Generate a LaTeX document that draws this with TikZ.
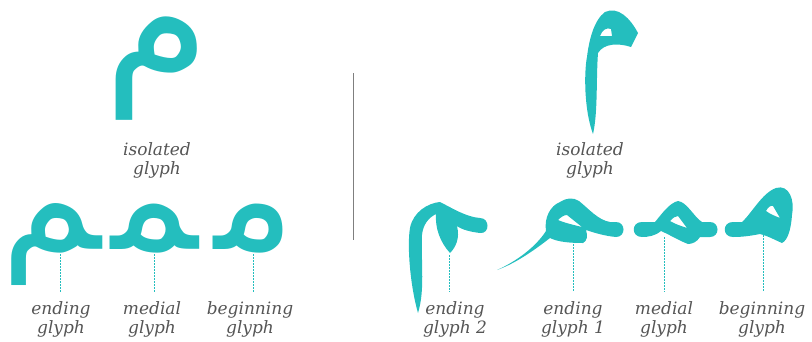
\documentclass[tikz,border=0pt]{standalone}
\usepackage{fontspec}
\setmainfont{DejaVu Serif}
\newfontfamily\arabicfont[Script=Arabic]{DejaVu Sans}
\TeXXeTstate=1
\usetikzlibrary{positioning}
\definecolor{meemteal}{HTML}{24BEBE}
\definecolor{captiongray}{HTML}{555555}
\definecolor{rulegray}{HTML}{7F7F7F}
\newcommand{\zwj}{^^^^200d}

\begin{document}
\begin{tikzpicture}[x=1pt, y=-1pt,
    glyph/.style={font=\arabicfont\fontsize{150}{150}\selectfont, text=meemteal, inner sep=0pt, anchor=base},
    bigglyph/.style={glyph, font=\arabicfont\fontsize{170}{170}\selectfont},
    caption/.style={font=\itshape\fontsize{17}{19}\selectfont, text=captiongray, align=center, inner sep=0pt, anchor=base},
    guide/.style={draw=meemteal, line width=0.9pt, dash pattern=on 1.5pt off 1.5pt, shorten >=9pt},
    pen/.style={fill=meemteal, even odd rule}
]
    \useasboundingbox (0,0) rectangle (812,341);

    % left half: one font, the four forms
    \node [bigglyph] (isoA) at (157,79) {\smash{\beginR م\endR}};
    \node [caption] (isoAcap) at (157,174) {isolated\\glyph};
    \node [glyph] (endA) at (51,249) {\smash{\beginR\zwj م\endR}};
    \node [glyph] (medA) at (155,249) {\smash{\beginR\zwj م\zwj\endR}};
    \node [glyph] (begA) at (255,249) {\smash{\beginR م\zwj\endR}};
    \node [caption] (endAcap) at (61,333) {ending\\glyph};
    \node [caption] (medAcap) at (152,333) {medial\\glyph};
    \node [caption] (begAcap) at (250,333) {beginning\\glyph};

    \coordinate (endAtip) at (60,254);
    \coordinate (medAtip) at (154,254);
    \coordinate (begAtip) at (253,254);
    \draw [guide] (endAtip) -- (endAtip |- endAcap.north);
    \draw [guide] (medAtip) -- (medAtip |- medAcap.north);
    \draw [guide] (begAtip) -- (begAtip |- begAcap.north);

    % separator
    \coordinate (sepTop) at (353,73);
    \coordinate (sepBot) at (353,240);
    \draw [rulegray, line width=1pt] (sepTop) -- (sepBot);

    % right half: calligraphic forms
    \fill [pen] (593,134) .. controls (584,110) and (584,72) .. (587,57)
        .. controls (589,40) and (594,20) .. (605,12)
        .. controls (618,6) and (630,18) .. (638,33)
        -- (631,47)
        .. controls (619,43) and (604,43) .. (598,53)
        .. controls (596,80) and (598,112) .. (593,134) -- cycle
        (600,36) .. controls (602,30) and (607,27) .. (611,29) -- (612,36) -- cycle;
    \node [caption] (isoBcap) at (590,174) {isolated\\glyph};

    % ending glyph 2
    \fill [pen] (418,313) .. controls (410,285) and (407,245) .. (410,228)
        .. controls (413,212) and (428,203) .. (440,202)
        .. controls (452,208) and (466,217) .. (480,218)
        .. controls (490,218) and (490,234) .. (480,233)
        .. controls (472,232) and (462,230) .. (457,226)
        .. controls (460,238) and (456,247) .. (450,253)
        .. controls (440,242) and (435,228) .. (436,214)
        .. controls (428,218) and (423,225) .. (422,235)
        .. controls (421,265) and (425,290) .. (418,313) -- cycle;
    % ending glyph 1
    \fill [pen] (497,270) .. controls (515,262) and (535,248) .. (546,231)
        .. controls (544,218) and (550,206) .. (560,202)
        .. controls (566,198) and (573,197) .. (579,201)
        .. controls (589,209) and (598,220) .. (610,222)
        -- (616,222) .. controls (626,222) and (626,237) .. (616,237)
        .. controls (605,236) and (595,233) .. (586,230)
        .. controls (588,236) and (587,241) .. (583,243)
        .. controls (570,243) and (558,242) .. (550,238)
        .. controls (532,252) and (514,264) .. (497,270) -- cycle
        (558,220) .. controls (561,217) and (564,215) .. (567,215)
        -- (582,227) .. controls (574,225) and (565,223) .. (558,220) -- cycle;
    % medial glyph
    \fill [pen] (642,237) .. controls (631,237) and (631,222) .. (642,222)
        -- (655,222)
        .. controls (661,215) and (669,203) .. (678,201)
        .. controls (687,202) and (694,217) .. (702,222)
        -- (710,222)
        .. controls (720,222) and (720,237) .. (710,237)
        -- (700,237)
        .. controls (697,242) and (692,244) .. (688,244)
        .. controls (680,241) and (670,235) .. (661,231)
        .. controls (655,236) and (648,237) .. (642,237) -- cycle
        (670,221) .. controls (673,218) and (675,216) .. (678,216)
        -- (687,228) .. controls (681,226) and (675,224) .. (670,221) -- cycle;
    % beginning glyph
    \fill [pen] (733,237) .. controls (722,237) and (722,222) .. (733,222)
        -- (742,222)
        .. controls (752,213) and (762,193) .. (776,188)
        .. controls (789,184) and (795,200) .. (792,215)
        .. controls (791,229) and (788,240) .. (782,243)
        .. controls (775,240) and (768,236) .. (760,234)
        .. controls (750,236) and (742,237) .. (733,237) -- cycle
        (766,211) .. controls (768,207) and (771,205) .. (773,206)
        -- (780,218) .. controls (775,216) and (770,214) .. (766,211) -- cycle;

    \node [caption] (end2cap) at (455,333) {ending\\glyph 2};
    \node [caption] (end1cap) at (573,333) {ending\\glyph 1};
    \node [caption] (medBcap) at (664,333) {medial\\glyph};
    \node [caption] (begBcap) at (762,333) {beginning\\glyph};

    \coordinate (end2tip) at (449,255);
    \coordinate (end1tip) at (573,244);
    \coordinate (medBtip) at (664,237);
    \coordinate (begBtip) at (763,235);
    \draw [guide] (end2tip) -- (end2tip |- end2cap.north);
    \draw [guide] (end1tip) -- (end1tip |- end1cap.north);
    \draw [guide] (medBtip) -- (medBtip |- medBcap.north);
    \draw [guide] (begBtip) -- (begBtip |- begBcap.north);
\end{tikzpicture}
\end{document}
